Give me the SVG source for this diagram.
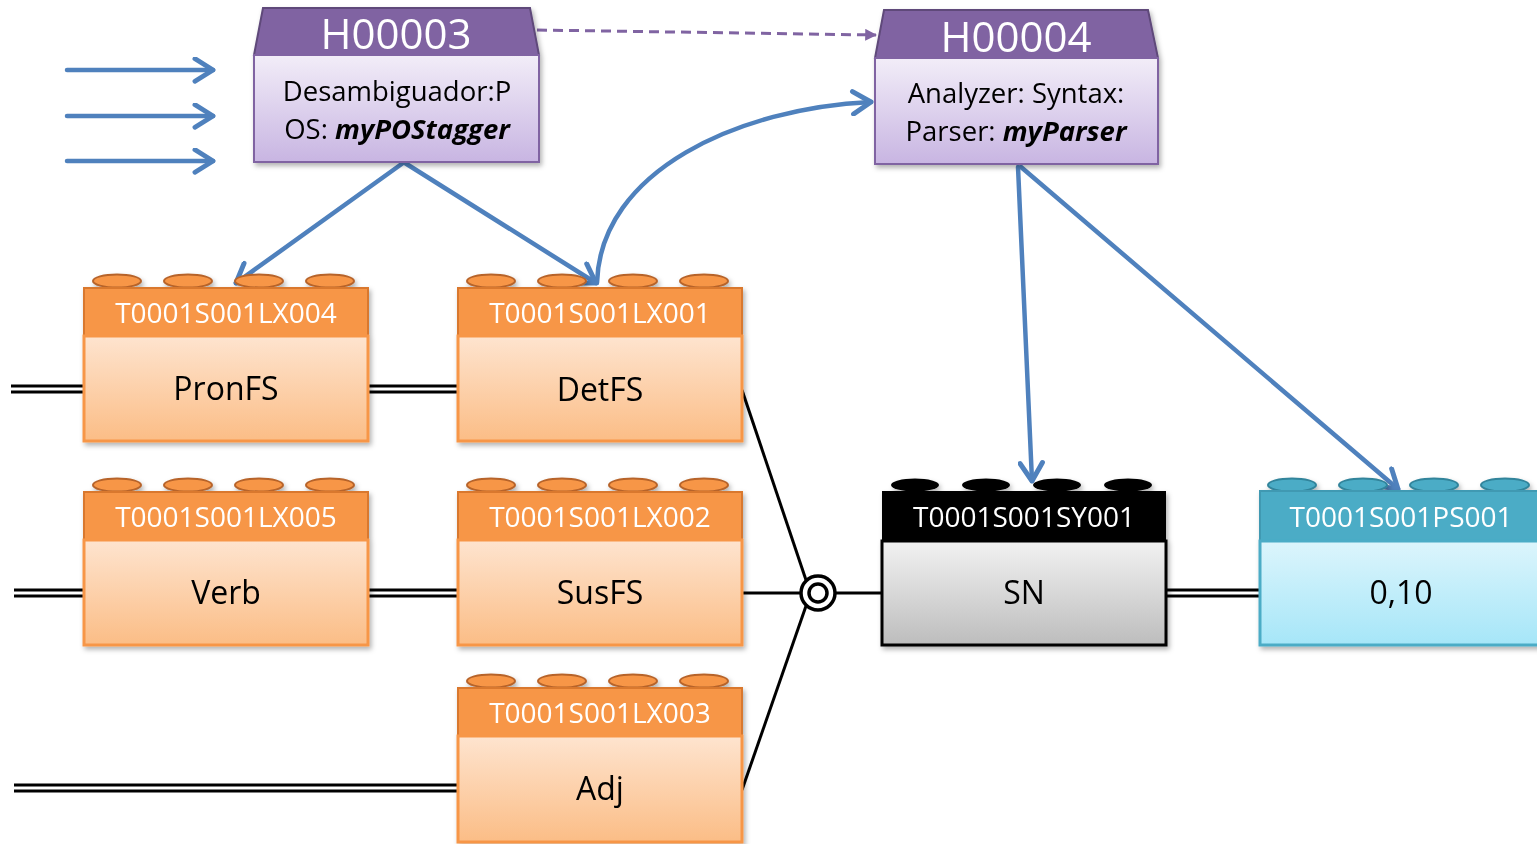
<svg xmlns="http://www.w3.org/2000/svg" width="1537" height="844" viewBox="0 0 1537 844">
<defs>
<linearGradient id="gOr" x1="0" y1="0" x2="0" y2="1"><stop offset="0" stop-color="#fee4cf"/><stop offset="1" stop-color="#fbbd86"/></linearGradient>
<linearGradient id="gPu" x1="0" y1="0" x2="0" y2="1"><stop offset="0" stop-color="#f2edf8"/><stop offset="1" stop-color="#c8b5e2"/></linearGradient>
<linearGradient id="gGr" x1="0" y1="0" x2="0" y2="1"><stop offset="0" stop-color="#f2f2f2"/><stop offset="1" stop-color="#bdbdbd"/></linearGradient>
<linearGradient id="gCy" x1="0" y1="0" x2="0" y2="1"><stop offset="0" stop-color="#dcf5fc"/><stop offset="1" stop-color="#a6e6f8"/></linearGradient>
<filter id="sh" x="-10%" y="-10%" width="120%" height="130%"><feDropShadow dx="2" dy="3" stdDeviation="2.5" flood-color="#000" flood-opacity="0.3"/></filter>
<marker id="ab" viewBox="0 0 12 12" refX="10" refY="6" markerWidth="6" markerHeight="6" markerUnits="strokeWidth" orient="auto"><polyline points="2,1 10,6 2,11" fill="none" stroke="#4f81bd" stroke-width="2.2" stroke-linecap="round" stroke-linejoin="round"/></marker>
<marker id="ap" viewBox="0 0 10 10" refX="9" refY="5" markerWidth="4" markerHeight="4" markerUnits="strokeWidth" orient="auto"><path d="M0,0 L10,5 L0,10 Z" fill="#8064a2"/></marker>
</defs>
<style>
.hd{font-family:"Open Sans","Liberation Sans",sans-serif;fill:#fff;text-anchor:middle}
.bd{font-family:"Open Sans","Liberation Sans",sans-serif;fill:#000;text-anchor:middle}
.blue{fill:none;stroke:#4f81bd;stroke-width:4.5;stroke-linecap:round;marker-end:url(#ab)}
.blk{fill:none;stroke:#000;stroke-width:3}
.dbl{stroke:#000;stroke-width:3}
.orH{fill:#f79646;stroke:#d9782f;stroke-width:2}
.orB{fill:url(#gOr);stroke:#f79646;stroke-width:3}
.orK{fill:#f79646;stroke:#b7642a;stroke-width:2}
</style>
<rect width="1537" height="844" fill="#fff"/>

<g id="connectors">
<line class="blue" x1="67" y1="70" x2="213" y2="70"/>
<line class="blue" x1="67" y1="116" x2="213" y2="116"/>
<line class="blue" x1="67" y1="161" x2="213" y2="161"/>
<line x1="537" y1="30" x2="876" y2="35" stroke="#8064a2" stroke-width="3" stroke-dasharray="10,6" marker-end="url(#ap)"/>
<line class="blue" x1="403" y1="163" x2="236" y2="283"/>
<line class="blue" x1="405" y1="163" x2="596" y2="283"/>
<path class="blue" d="M597,283 C600,170 740,108 871,102"/>
<line class="blue" x1="1018" y1="167" x2="1032" y2="481"/>
<line class="blue" x1="1021" y1="167" x2="1398" y2="489"/>
<g class="dbl">
<line x1="11" y1="386" x2="84" y2="386"/><line x1="11" y1="392" x2="84" y2="392"/>
<line x1="368" y1="386" x2="458" y2="386"/><line x1="368" y1="392" x2="458" y2="392"/>
<line x1="14" y1="590" x2="84" y2="590"/><line x1="14" y1="596" x2="84" y2="596"/>
<line x1="368" y1="590" x2="458" y2="590"/><line x1="368" y1="596" x2="458" y2="596"/>
<line x1="14" y1="785" x2="458" y2="785"/><line x1="14" y1="791" x2="458" y2="791"/>
<line x1="1166" y1="590" x2="1260" y2="590"/><line x1="1166" y1="596" x2="1260" y2="596"/>
</g>
<line class="blk" x1="742" y1="390" x2="806" y2="580"/>
<line class="blk" x1="742" y1="593" x2="801" y2="593"/>
<line class="blk" x1="742" y1="790" x2="806" y2="606"/>
<line class="blk" x1="835" y1="593" x2="882" y2="593"/>
<circle cx="818" cy="593" r="17" fill="#fff" stroke="#000" stroke-width="3.5"/>
<circle cx="818" cy="593" r="9" fill="#fff" stroke="#000" stroke-width="3.5"/>
</g>

<g id="H00003" filter="url(#sh)">
<path d="M263,8 L530,8 L539,55 L254,55 Z" fill="#8064a2" stroke="#5f497a" stroke-width="2"/>
<rect x="254" y="55" width="285" height="107" fill="url(#gPu)" stroke="#8064a2" stroke-width="2"/>
<text class="hd" x="396" y="49" font-size="42">H00003</text>
<text class="bd" x="397" y="101" font-size="27.5">Desambiguador:P</text>
<text class="bd" x="397" y="139" font-size="27.5">OS: <tspan font-weight="bold" font-style="italic">myPOStagger</tspan></text>
</g>

<g id="H00004" filter="url(#sh)">
<path d="M884,10 L1148,10 L1158,58 L875,58 Z" fill="#8064a2" stroke="#5f497a" stroke-width="2"/>
<rect x="875" y="58" width="283" height="106" fill="url(#gPu)" stroke="#8064a2" stroke-width="2"/>
<text class="hd" x="1016" y="52" font-size="42">H00004</text>
<text class="bd" x="1016" y="103" font-size="27.5">Analyzer: Syntax:</text>
<text class="bd" x="1016" y="141" font-size="27.5">Parser: <tspan font-weight="bold" font-style="italic">myParser</tspan></text>
</g>

<g id="LX004" filter="url(#sh)">
<ellipse class="orK" cx="117" cy="281" rx="24" ry="6.5"/><ellipse class="orK" cx="188" cy="281" rx="24" ry="6.5"/><ellipse class="orK" cx="259" cy="281" rx="24" ry="6.5"/><ellipse class="orK" cx="330" cy="281" rx="24" ry="6.5"/>
<rect class="orH" x="84" y="288" width="284" height="48"/>
<rect class="orB" x="84" y="336" width="284" height="105"/>
<text class="hd" x="226" y="323" font-size="28">T0001S001LX004</text>
<text class="bd" x="226" y="400" font-size="32">PronFS</text>
</g>

<g id="LX001" filter="url(#sh)">
<ellipse class="orK" cx="491" cy="281" rx="24" ry="6.5"/><ellipse class="orK" cx="562" cy="281" rx="24" ry="6.5"/><ellipse class="orK" cx="633" cy="281" rx="24" ry="6.5"/><ellipse class="orK" cx="704" cy="281" rx="24" ry="6.5"/>
<rect class="orH" x="458" y="288" width="284" height="48"/>
<rect class="orB" x="458" y="336" width="284" height="105"/>
<text class="hd" x="600" y="323" font-size="28">T0001S001LX001</text>
<text class="bd" x="600" y="401" font-size="32">DetFS</text>
</g>

<g id="LX005" filter="url(#sh)">
<ellipse class="orK" cx="117" cy="485" rx="24" ry="6.5"/><ellipse class="orK" cx="188" cy="485" rx="24" ry="6.5"/><ellipse class="orK" cx="259" cy="485" rx="24" ry="6.5"/><ellipse class="orK" cx="330" cy="485" rx="24" ry="6.5"/>
<rect class="orH" x="84" y="492" width="284" height="48"/>
<rect class="orB" x="84" y="540" width="284" height="105"/>
<text class="hd" x="226" y="527" font-size="28">T0001S001LX005</text>
<text class="bd" x="226" y="604" font-size="32">Verb</text>
</g>

<g id="LX002" filter="url(#sh)">
<ellipse class="orK" cx="491" cy="485" rx="24" ry="6.5"/><ellipse class="orK" cx="562" cy="485" rx="24" ry="6.5"/><ellipse class="orK" cx="633" cy="485" rx="24" ry="6.5"/><ellipse class="orK" cx="704" cy="485" rx="24" ry="6.5"/>
<rect class="orH" x="458" y="492" width="284" height="48"/>
<rect class="orB" x="458" y="540" width="284" height="105"/>
<text class="hd" x="600" y="527" font-size="28">T0001S001LX002</text>
<text class="bd" x="600" y="604" font-size="32">SusFS</text>
</g>

<g id="LX003" filter="url(#sh)">
<ellipse class="orK" cx="491" cy="681" rx="24" ry="6.5"/><ellipse class="orK" cx="562" cy="681" rx="24" ry="6.5"/><ellipse class="orK" cx="633" cy="681" rx="24" ry="6.5"/><ellipse class="orK" cx="704" cy="681" rx="24" ry="6.5"/>
<rect class="orH" x="458" y="688" width="284" height="48"/>
<rect class="orB" x="458" y="736" width="284" height="106"/>
<text class="hd" x="600" y="723" font-size="28">T0001S001LX003</text>
<text class="bd" x="600" y="800" font-size="32">Adj</text>
</g>

<g id="SY001" filter="url(#sh)">
<ellipse cx="915" cy="485" rx="24" ry="6.5" fill="#000"/><ellipse cx="986" cy="485" rx="24" ry="6.5" fill="#000"/><ellipse cx="1057" cy="485" rx="24" ry="6.5" fill="#000"/><ellipse cx="1128" cy="485" rx="24" ry="6.5" fill="#000"/>
<rect x="882" y="491" width="284" height="50" fill="#000"/>
<rect x="882" y="541" width="284" height="104" fill="url(#gGr)" stroke="#000" stroke-width="3"/>
<text class="hd" x="1024" y="527" font-size="28">T0001S001SY001</text>
<text class="bd" x="1024" y="604" font-size="32">SN</text>
</g>

<g id="PS001" filter="url(#sh)">
<ellipse cx="1292" cy="485" rx="24" ry="6.5" fill="#4bacc6" stroke="#31849b" stroke-width="2"/><ellipse cx="1363" cy="485" rx="24" ry="6.5" fill="#4bacc6" stroke="#31849b" stroke-width="2"/><ellipse cx="1434" cy="485" rx="24" ry="6.5" fill="#4bacc6" stroke="#31849b" stroke-width="2"/><ellipse cx="1505" cy="485" rx="24" ry="6.5" fill="#4bacc6" stroke="#31849b" stroke-width="2"/>
<rect x="1260" y="491" width="284" height="50" fill="#4bacc6" stroke="#3f99b2" stroke-width="2"/>
<rect x="1260" y="541" width="284" height="104" fill="url(#gCy)" stroke="#4bacc6" stroke-width="3"/>
<text class="hd" x="1401" y="527" font-size="28">T0001S001PS001</text>
<text class="bd" x="1401" y="604" font-size="32">0,10</text>
</g>
</svg>
